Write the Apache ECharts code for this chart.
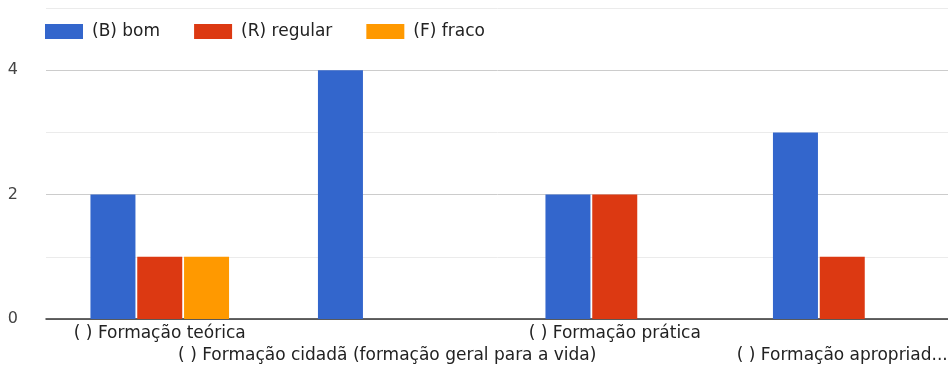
<!DOCTYPE html>
<html>
<head>
<meta charset="utf-8">
<script src="https://cdn.jsdelivr.net/npm/echarts@6/dist/echarts.min.js"></script>
<style>
html,body{margin:0;padding:0;background:#fff;}
#chart{width:948px;height:370px;}
</style>
</head>
<body>
<div id="chart"></div>
<script>
const categories = [
  '( ) Formação teórica',
  '( ) Formação cidadã (formação geral para a vida)',
  '( ) Formação prática',
  '( ) Formação apropriad...'
];
const seriesNames = ['(B) bom', '(R) regular', '(F) fraco'];
const bomValues = [2, 4, 2, 3];
const regularValues = [1, 0, 2, 1];
const fracoValues = [1, 0, 0, 0];
const yTickLabels = [0, 2, 4];

const colors = ['#3366cc', '#dc3912', '#ff9900'];
const font = 'DejaVu Sans, Liberation Sans, Arial, sans-serif';

const chart = echarts.init(document.getElementById('chart'), null, {renderer: 'canvas'});
const mk = (name, data) => ({
  name: name,
  type: 'bar',
  data: data,
  barWidth: 45,
  barGap: '4%'
});
chart.setOption({
  animation: false,
  color: colors,
  textStyle: {fontFamily: font},
  legend: {
    left: 40, top: 18,
    icon: 'rect',
    itemWidth: 38, itemHeight: 15,
    itemGap: 34,
    textStyle: {fontFamily: font, fontSize: 17, color: '#222', padding: [0,0,0,4]},
    data: seriesNames
  },
  grid: {left: 46, width: 910, top: 8, bottom: 51, outerBoundsMode: 'none', containLabel: false},
  xAxis: {
    type: 'category',
    data: categories,
    axisTick: {show: false},
    axisLine: {lineStyle: {color: '#333', width: 1.5}},
    axisLabel: {
      interval: 0,
      fontFamily: font,
      fontSize: 17,
      color: '#222',
      margin: 4,
      lineHeight: 22,
      formatter: function (v, i) { return i % 2 === 1 ? '\n' + v : v; }
    }
  },
  yAxis: {
    type: 'value',
    min: 0, max: 5, interval: 1,
    axisLine: {show: false},
    axisTick: {show: false},
    axisLabel: {
      fontFamily: font, fontSize: 16, color: '#444', margin: 28,
      formatter: function (v) { return yTickLabels.indexOf(v) >= 0 ? String(v) : ''; }
    },
    splitLine: {lineStyle: {color: ['#cccccc', '#ebebeb'], width: 1}}
  },
  series: [
    mk(seriesNames[0], bomValues),
    mk(seriesNames[1], regularValues),
    mk(seriesNames[2], fracoValues)
  ]
});
</script>
</body>
</html>
